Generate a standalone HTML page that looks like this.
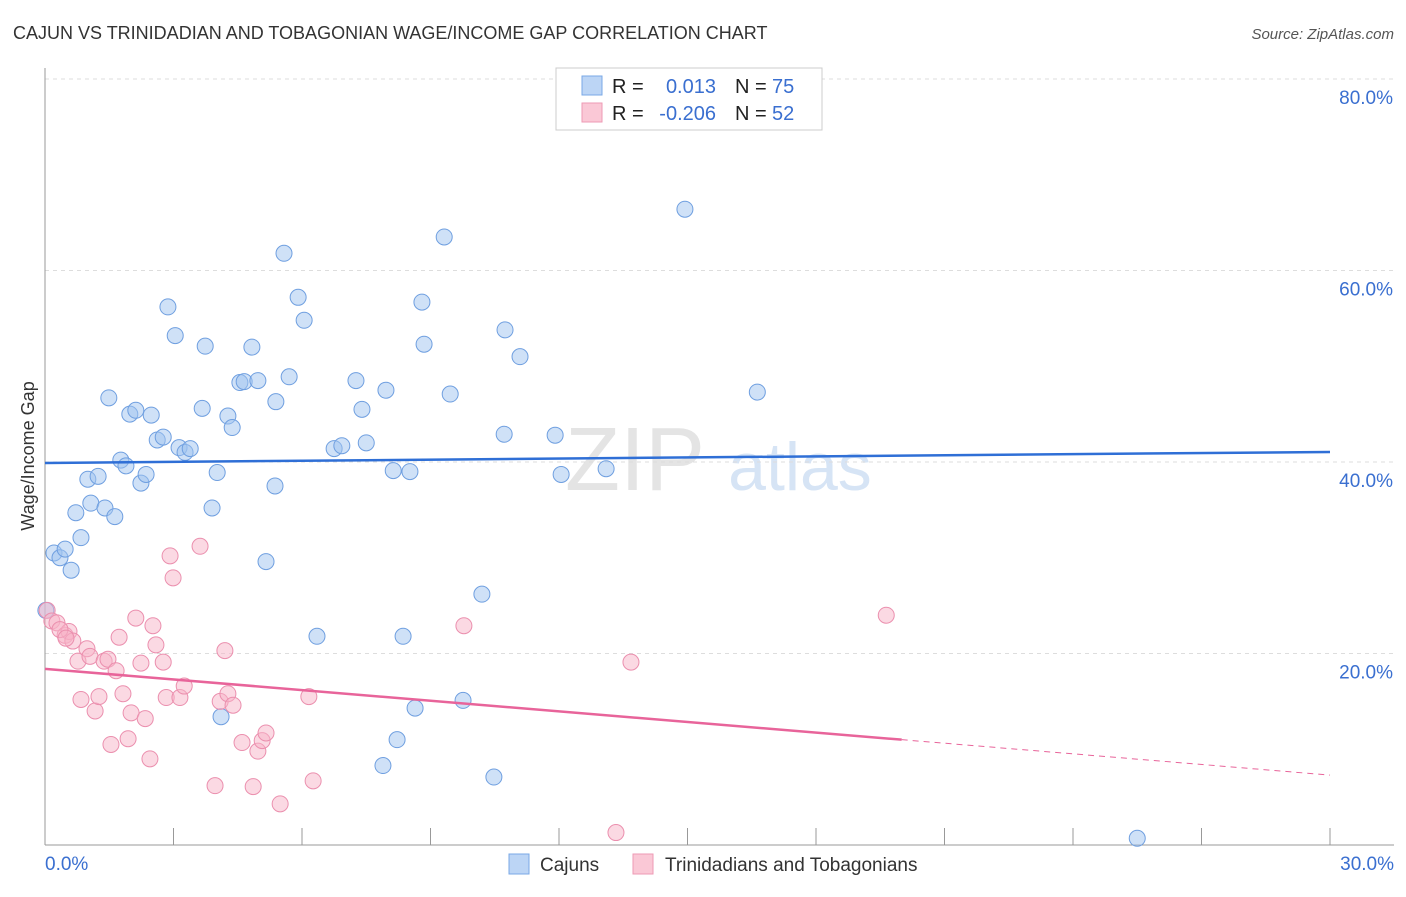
<!DOCTYPE html>
<html><head><meta charset="utf-8"><style>
body{margin:0;background:#fff;font-family:"Liberation Sans",sans-serif;}
svg text{font-family:"Liberation Sans",sans-serif;}
</style></head><body>
<svg id="chart" width="1406" height="892">
<text x="13" y="39" font-size="18" fill="#333">CAJUN VS TRINIDADIAN AND TOBAGONIAN WAGE/INCOME GAP CORRELATION CHART</text>
<text x="1394" y="39" font-size="15" fill="#555" font-style="italic" text-anchor="end">Source: ZipAtlas.com</text>
<text x="635" y="490" font-size="90" fill="#e4e4e4" font-family="Liberation Serif" text-anchor="middle">ZIP</text>
<text x="800" y="490" font-size="68" fill="#d6e4f5" text-anchor="middle">atlas</text>
<g id="grid"></g>
<g id="axes"></g>
<g id="marks"></g>
<text transform="translate(34,456) rotate(-90)" font-size="18" fill="#333" text-anchor="middle">Wage/Income Gap</text>
<g>
<rect x="556" y="68" width="266" height="62" fill="#fff" stroke="#ccc"/>
<rect x="582" y="76" width="20" height="19" fill="#bcd5f5" stroke="#7aa8e6"/>
<rect x="582" y="103" width="20" height="19" fill="#fac8d6" stroke="#ee9ab4"/>
<text x="612" y="93" font-size="20" fill="#222">R =</text>
<text x="716" y="93" font-size="20" fill="#3a6fd0" text-anchor="end">0.013</text>
<text x="735" y="93" font-size="20" fill="#222">N =</text>
<text x="772" y="93" font-size="20" fill="#3a6fd0">75</text>
<text x="612" y="120" font-size="20" fill="#222">R =</text>
<text x="716" y="120" font-size="20" fill="#3a6fd0" text-anchor="end">-0.206</text>
<text x="735" y="120" font-size="20" fill="#222">N =</text>
<text x="772" y="120" font-size="20" fill="#3a6fd0">52</text>
</g>
<g>
<rect x="509" y="854" width="20" height="20" fill="#bcd5f5" stroke="#7aa8e6"/>
<text x="540" y="871" font-size="19" fill="#333">Cajuns</text>
<rect x="633" y="854" width="20" height="20" fill="#fac8d6" stroke="#ee9ab4"/>
<text x="665" y="871" font-size="19" fill="#333">Trinidadians and Tobagonians</text>
</g>
</svg>
<script>
const blueX=[0.21,0.35,0.47,0.61,0.72,0.84,1.00,1.07,1.24,1.40,1.49,1.63,1.77,1.89,1.98,2.12,2.24,2.36,2.48,2.62,2.76,2.87,3.04,3.13,3.27,3.39,3.67,3.74,3.90,4.02,4.11,4.27,4.37,4.55,4.65,4.83,4.97,5.16,5.37,5.39,5.58,5.70,5.91,6.05,6.35,6.75,6.93,7.26,7.40,7.50,7.89,7.96,8.13,8.22,8.36,8.52,8.64,8.80,8.85,9.32,9.46,9.76,10.20,10.48,10.74,10.72,11.09,11.91,12.05,13.10,14.94,16.63,17.63,25.50,0.02];
const blueY=[30.5,30.0,30.9,28.7,34.7,32.1,38.2,35.7,38.5,35.2,46.7,34.3,40.2,39.6,45.0,45.4,37.8,38.7,44.9,42.3,42.6,56.2,53.2,41.5,41.0,41.4,45.6,52.1,35.2,38.9,13.4,44.8,43.6,48.3,48.4,52.0,48.5,29.6,37.5,46.3,61.8,48.9,57.2,54.8,21.8,41.4,41.7,48.5,45.5,42.0,8.3,47.5,39.1,11.0,21.8,39.0,14.3,56.7,52.3,63.5,47.1,15.1,26.2,7.1,53.8,42.9,51.0,42.8,38.7,39.3,66.4,47.3,79.9,0.7,24.5];
const pinkX=[0.05,0.16,0.28,0.47,0.56,0.65,0.77,0.84,0.98,1.05,1.17,1.26,1.38,1.47,1.54,1.66,1.73,1.82,1.94,2.01,2.12,2.24,2.34,2.45,2.52,2.59,2.76,2.83,2.92,2.99,3.15,3.25,3.62,3.97,4.09,4.20,4.27,4.39,4.60,4.86,4.97,5.07,5.16,5.49,6.16,6.26,9.78,13.33,13.68,19.64,0.35,0.49];
const pinkY=[24.5,23.4,23.2,21.9,22.3,21.3,19.2,15.2,20.5,19.7,14.0,15.5,19.2,19.4,10.5,18.2,21.7,15.8,11.1,13.8,23.7,19.0,13.2,9.0,22.9,20.9,19.1,15.4,30.2,27.9,15.4,16.6,31.2,6.2,15.0,20.3,15.8,14.6,10.7,6.1,9.8,10.9,11.7,4.3,15.5,6.7,22.9,1.3,19.1,24.0,22.5,21.6];
const blueTrend=[39.9,41.05];
const pinkTrend=[18.4,7.3];
const pinkSolidEnd=20;
const yTicks=[20,40,60,80];
const xTicks=[0,3,6,9,12,15,18,21,24,27,30];
const X0=45,X1=1330,Y0=845,YPER=191.5/20;
const sx=v=>X0+(v/30)*(X1-X0);
const sy=v=>Y0-v*YPER;
const NS="http://www.w3.org/2000/svg";
function mk(tag,parent){const e=document.createElementNS(NS,tag);document.getElementById(parent).appendChild(e);return e;}
yTicks.forEach(t=>{
 const l=mk('line','grid');
 
 
 l.setAttribute('x1',X0);l.setAttribute('x2',1394);l.setAttribute('y1',sy(t));l.setAttribute('y2',sy(t));
 l.setAttribute('stroke','#ddd');l.setAttribute('stroke-dasharray','4,4');
 const tx=mk('text','grid');
 
 
 tx.setAttribute('x',1393);tx.setAttribute('y',sy(t)+25);tx.setAttribute('text-anchor','end');
 tx.setAttribute('font-size','19');tx.setAttribute('fill','#3a6fd0');tx.textContent=t.toFixed(1)+'%';
});
xTicks.forEach(t=>{
 const l=mk('line','axes');
 
 
 l.setAttribute('x1',sx(t));l.setAttribute('x2',sx(t));l.setAttribute('y1',828);l.setAttribute('y2',Y0);
 l.setAttribute('stroke','#999');
});
[[0,'start',45],[30,'end',1394]].forEach(([v,a,x])=>{
 const tx=mk('text','axes');
 
 
 tx.setAttribute('x',x);tx.setAttribute('y',870);tx.setAttribute('text-anchor',a);
 tx.setAttribute('font-size','19');tx.setAttribute('fill','#3a6fd0');tx.textContent=v.toFixed(1)+'%';
});
const ax=mk('line','axes');


ax.setAttribute('x1',X0);ax.setAttribute('x2',1394);ax.setAttribute('y1',Y0);ax.setAttribute('y2',Y0);ax.setAttribute('stroke','#999');
const ay=mk('line','axes');


ay.setAttribute('x1',X0);ay.setAttribute('x2',X0);ay.setAttribute('y1',68);ay.setAttribute('y2',Y0);ay.setAttribute('stroke','#999');
function dots(xs,ys,fill,stroke,name){
 xs.forEach((v,i)=>{
  const c=mk('circle','marks');
  
  
  c.setAttribute('cx',sx(v));c.setAttribute('cy',sy(ys[i]));c.setAttribute('r',8);
  c.setAttribute('fill',fill);c.setAttribute('stroke',stroke);c.setAttribute('stroke-width','1');
 });
}
dots(blueX,blueY,'rgba(160,196,240,0.5)','#6f9fe0','cajun-point');
dots(pinkX,pinkY,'rgba(248,180,200,0.5)','#eb8fae','trinidadian-point');
const bl=mk('line','marks');


bl.setAttribute('x1',sx(0));bl.setAttribute('x2',sx(30));bl.setAttribute('y1',sy(blueTrend[0]));bl.setAttribute('y2',sy(blueTrend[1]));
bl.setAttribute('stroke','#2f6fd6');bl.setAttribute('stroke-width','2.5');
const pAt=v=>pinkTrend[0]+(pinkTrend[1]-pinkTrend[0])*v/30;
const pl=mk('line','marks');


pl.setAttribute('x1',sx(0));pl.setAttribute('x2',sx(pinkSolidEnd));pl.setAttribute('y1',sy(pAt(0)));pl.setAttribute('y2',sy(pAt(pinkSolidEnd)));
pl.setAttribute('stroke','#e8649a');pl.setAttribute('stroke-width','2.5');
const pd=mk('line','marks');


pd.setAttribute('x1',sx(pinkSolidEnd));pd.setAttribute('x2',sx(30));pd.setAttribute('y1',sy(pAt(pinkSolidEnd)));pd.setAttribute('y2',sy(pAt(30)));
pd.setAttribute('stroke','#e8649a');pd.setAttribute('stroke-width','1');pd.setAttribute('stroke-dasharray','6,5');
</script>
</body></html>
